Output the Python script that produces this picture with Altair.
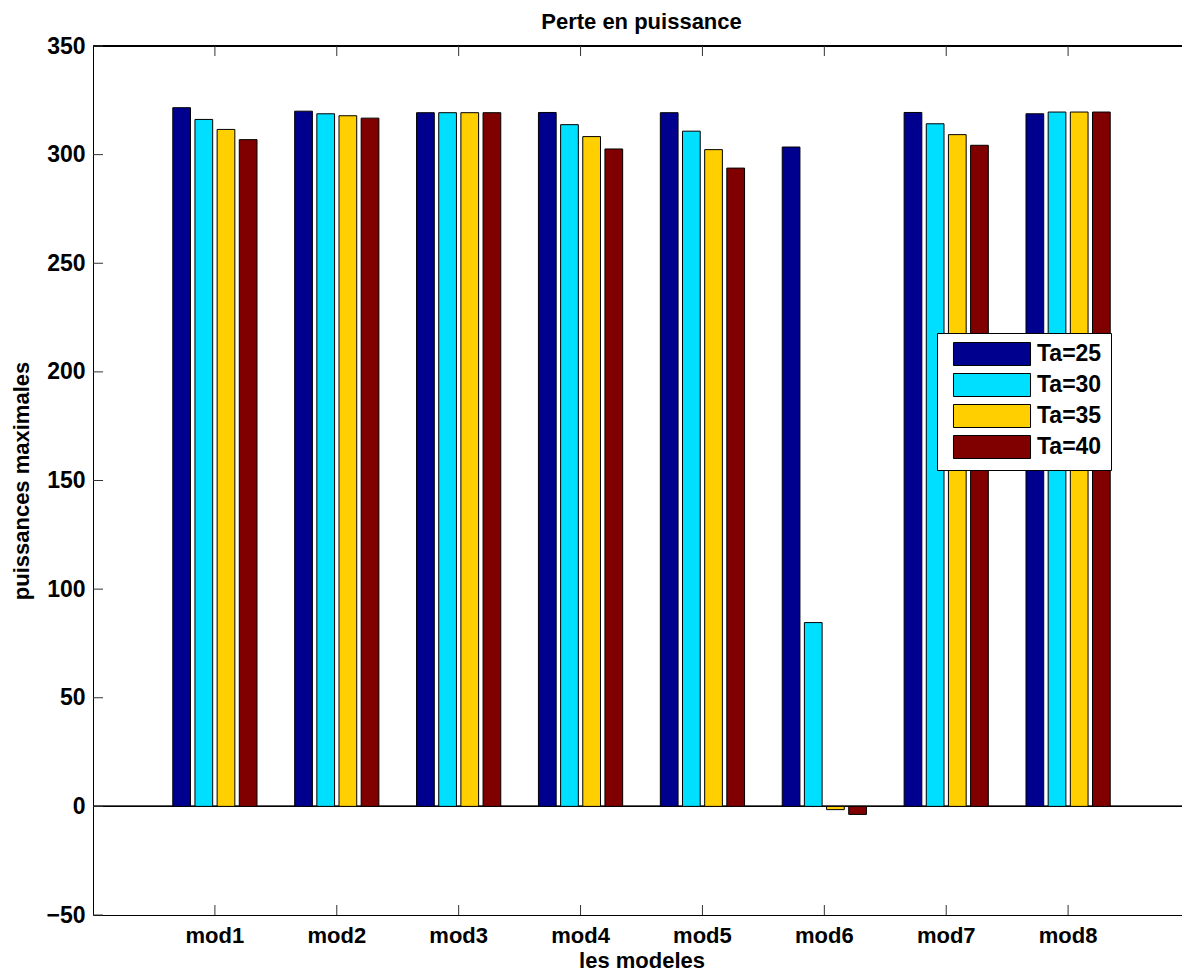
import altair as alt
import pandas as pd

models = ["mod1", "mod2", "mod3", "mod4", "mod5", "mod6", "mod7", "mod8"]
series = ["Ta=25", "Ta=30", "Ta=35", "Ta=40"]
ta25 = [321.6, 320.0, 319.3, 319.4, 319.3, 303.5, 319.4, 318.8]
ta30 = [316.2, 318.8, 319.3, 313.8, 310.8, 84.6, 314.2, 319.6]
ta35 = [311.6, 317.9, 319.3, 308.3, 302.3, -1.5, 309.2, 319.6]
ta40 = [306.9, 316.8, 319.3, 302.6, 293.8, -3.7, 304.3, 319.6]
colors = ["#00008F", "#00DFFF", "#FFCF00", "#800000"]
y_ticks = [-50, 0, 50, 100, 150, 200, 250, 300, 350]

W, H = 1097, 869
FONT = "Liberation Sans"

rows = []
for s, vals in zip(series, [ta25, ta30, ta35, ta40]):
    for m, v in zip(models, vals):
        rows.append({"model": m, "serie": s, "value": v})
df = pd.DataFrame(rows)
df_models = pd.DataFrame({"model": models})
df_yt = pd.DataFrame({"value": y_ticks})

x_enc = alt.X(
    "model:N",
    sort=models,
    scale=alt.Scale(domain=models, paddingInner=0.2727, paddingOuter=0.6364),
    axis=alt.Axis(
        title="les modeles", labelAngle=0, ticks=False, domainColor="black",
        domainWidth=1, labelFont=FONT, labelFontSize=22, labelFontWeight="bold",
        labelColor="black", labelPadding=10, titleFont=FONT, titleFontSize=22,
        titleFontWeight="bold", titleColor="black", titlePadding=4,
    ),
)
y_enc = alt.Y(
    "value:Q",
    scale=alt.Scale(domain=[-50, 350], nice=False, zero=False),
    axis=alt.Axis(
        title="puissances maximales", values=y_ticks, ticks=False, grid=False,
        domainColor="black", domainWidth=1, labelFont=FONT, labelFontSize=23,
        labelFontWeight="bold", labelColor="black", labelPadding=8,
        titleFont=FONT, titleFontSize=22, titleFontWeight="bold",
        titleColor="black", titlePadding=12,
    ),
)

baseline = alt.Chart(df_models).mark_rule(color="black", strokeWidth=1).encode(
    y=alt.datum(0)
)
topline = alt.Chart(df_models).mark_rule(color="black", strokeWidth=1).encode(
    y=alt.value(0)
)

bars = alt.Chart(df).mark_bar(stroke="black", strokeWidth=1, opacity=1).encode(
    x=x_enc,
    xOffset=alt.XOffset("serie:N", sort=series,
                        scale=alt.Scale(paddingInner=0.2, paddingOuter=0.1)),
    y=y_enc,
    y2=alt.datum(0),
    color=alt.Color(
        "serie:N",
        sort=series,
        scale=alt.Scale(domain=series, range=colors),
        legend=alt.Legend(
            title=None, orient="none", legendX=844, legendY=287,
            fillColor="white", strokeColor="black", padding=9,
            symbolType="M-3.35,-1H3.35V1H-3.35Z", symbolSize=529,
            symbolStrokeColor="black", symbolStrokeWidth=1, symbolOpacity=1,
            symbolOffset=34, labelOffset=33, rowPadding=3,
            labelFont=FONT, labelFontSize=23, labelFontWeight="bold",
            labelColor="black",
        ),
    ),
)

xt_bottom = alt.Chart(df_models).mark_rule(color="#333333", strokeWidth=1).encode(
    x=x_enc, y=alt.value(H), y2=alt.value(H - 10)
)
xt_top = alt.Chart(df_models).mark_rule(color="#333333", strokeWidth=1).encode(
    x=x_enc, y=alt.value(0), y2=alt.value(10)
)
yt_left = alt.Chart(df_yt).mark_rule(color="#333333", strokeWidth=1).encode(
    y=y_enc, x=alt.value(0), x2=alt.value(10)
)

chart = alt.layer(baseline, topline, xt_bottom, xt_top, yt_left, bars).properties(
    width=W,
    height=H,
    title=alt.TitleParams("Perte en puissance", font=FONT, fontSize=22,
                          fontWeight="bold", color="black", offset=1),
    autosize=alt.AutoSizeParams(type="none"),
    padding={"left": 85, "top": 38, "right": -8, "bottom": 56},
).configure_view(stroke=None).configure(background="white")

chart.save("out.html", embed_options={"renderer": "svg", "actions": False})
